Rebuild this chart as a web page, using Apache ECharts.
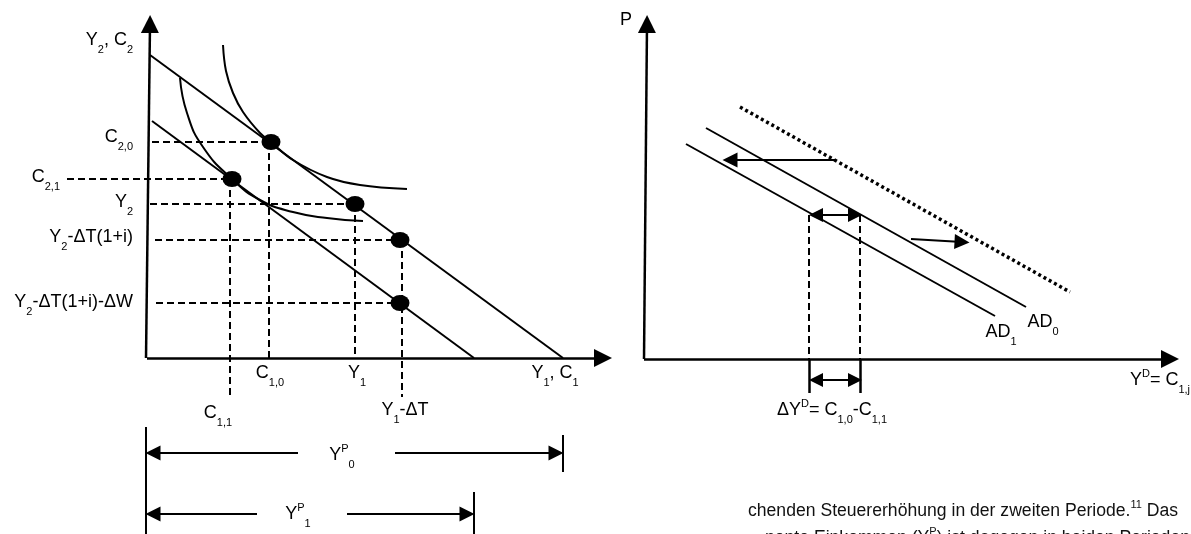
<!DOCTYPE html>
<html><head><meta charset="utf-8">
<script src="https://cdn.jsdelivr.net/npm/echarts@6/dist/echarts.min.js"></script>
<style>html,body{margin:0;padding:0;background:#fff}#c{width:1191px;height:534px}</style>
</head><body><div id="c"></div>
<script>
// ---------- Left diagram (Y1,C1 vs Y2,C2), schematic units from origin ----------
const leftAxisX = [[0,0],[456,0]];
const leftAxisY = [[-1,0],[3,334]];
const budgetOuter = [[3,303],[416,0]];
const budgetInner = [[5,237],[327,0]];
const indiffOuter = [[76,313],[79,287],[86,265],[96,246],[113,225],[124,216],[146,198],[180,181],[213,173],[260,169]];
const indiffInner = [[33,280],[40,245],[56,211],[85,179],[113,158],[146,146],[180,140],[216,137]];
const leftPoints = [[124,216],[85,179],[208,154],[253,118],[253,55]];
const leftGuides = [
  [[5,216],[124,216]], [[122,216],[122,0]],
  [[-80,179],[85,179]], [[83,179],[83,-40]],
  [[3,154],[208,154]], [[208,154],[208,0]],
  [[8,118],[253,118]], [[255,118],[255,-39]],
  [[9,55],[253,55]]
];
const spanBars = [[[-1,-69],[-1,-176]], [[416,-77],[416,-114]], [[327,-134],[327,-176]]];
const spanArrows = [[[151,-95],[6,-95]], [[248,-95],[409,-95]], [[110,-156],[6,-156]], [[200,-156],[320,-156]]];
const leftLabels = [
  ['Y_{2}, C_{2}', -14, 318, 'right'],
  ['C_{2,0}', -14, 221, 'right'],
  ['C_{2,1}', -87, 181, 'right'],
  ['Y_{2}', -14, 156, 'right'],
  ['Y_{2}-ΔT(1+i)', -14, 121, 'right'],
  ['Y_{2}-ΔT(1+i)-ΔW', -14, 56, 'right'],
  ['C_{1,0}', 123, -15, 'center'],
  ['Y_{1}', 210, -15, 'center'],
  ['Y_{1}, C_{1}', 408, -15, 'center'],
  ['C_{1,1}', 71, -55, 'center'],
  ['Y_{1}-ΔT', 258, -52, 'center'],
  ['Y^{P}_{0}', 195, -97, 'center'],
  ['Y^{P}_{1}', 151, -156, 'center']
];

// ---------- Right diagram (P vs Y^D) ----------
const rightAxisX = [[0,0],[526,0]];
const rightAxisY = [[0,0],[3,335]];
const ad1 = [[42,215],[351,43]];
const ad0 = [[62,231],[382,52]];
const adShifted = [[96,252],[426,67]];
const shiftArrows = [[[191,199],[86,199]], [[267,120],[318,117]]];
const deltaArrows = [[[172,144],[211,144]], [[172,-21],[211,-21]]];
const rightGuides = [[[165,144],[165,0]], [[216,144],[216,0]]];
const baseTicks = [[[165,0],[165,-34]], [[216,0],[216,-34]]];
const rightLabels = [
  ['P', -18, 339, 'center'],
  ['AD_{1}', 357, 27, 'center'],
  ['AD_{0}', 399, 37, 'center'],
  ['Y^{D}= C_{1,j}', 516, -21, 'center'],
  ['ΔY^{D}= C_{1,0}-C_{1,1}', 188, -51, 'center']
];

const bodyLines = [
  ['chenden Steuererhöhung in der zweiten Periode.', '11', ' Das'],
  ['nente Einkommen (Y', 'P', ') ist dagegen in beiden Perioden der C']
];

const FONT = '"Liberation Sans", Arial, Helvetica, sans-serif';
const INK = '#000';
const chart = echarts.init(document.getElementById('c'), null, {renderer: 'canvas'});

function segs(arr) { return arr.map(c => ({coords: c})); }
function linesSeries(name, data, grid, opts, ls) {
  return Object.assign({
    type: 'lines', name, coordinateSystem: 'cartesian2d',
    xAxisIndex: grid, yAxisIndex: grid, polyline: false, silent: true,
    data: segs(data), symbol: ['none','none'], symbolSize: 0,
    lineStyle: Object.assign({color: INK, width: 2, opacity: 1, type: 'solid', curveness: 0}, ls || {}),
    itemStyle: {color: INK, opacity: 1}, z: 2, animation: false
  }, opts || {});
}

const option = {
  animation: false,
  backgroundColor: '#fff',
  grid: [
    {left: 0, top: 0, width: 620, height: 534, show: false},
    {left: 620, top: 0, width: 571, height: 534, show: false}
  ],
  xAxis: [
    {type: 'value', gridIndex: 0, min: -147, max: 473, show: false},
    {type: 'value', gridIndex: 1, min: -24, max: 547, show: false}
  ],
  yAxis: [
    {type: 'value', gridIndex: 0, min: -176, max: 358, show: false},
    {type: 'value', gridIndex: 1, min: -175, max: 359, show: false}
  ],
  series: [
    linesSeries('leftAxes', [leftAxisX, leftAxisY], 0, {symbol: ['none','triangle'], symbolSize: 18}, {width: 2.5}),
    linesSeries('budget', [budgetOuter, budgetInner], 0),
    linesSeries('leftGuides', leftGuides, 0, null, {type: [7,4]}),
    linesSeries('spanBars', spanBars, 0),
    linesSeries('spanArrows', spanArrows, 0, {symbol: ['none','triangle'], symbolSize: 15}),
    {type: 'line', name: 'icOuter', xAxisIndex: 0, yAxisIndex: 0, data: indiffOuter, smooth: 0.4,
     showSymbol: false, lineStyle: {color: INK, width: 2, opacity: 1}, silent: true},
    {type: 'line', name: 'icInner', xAxisIndex: 0, yAxisIndex: 0, data: indiffInner, smooth: 0.5,
     showSymbol: false, lineStyle: {color: INK, width: 2, opacity: 1}, silent: true},
    {type: 'scatter', name: 'points', xAxisIndex: 0, yAxisIndex: 0, data: leftPoints,
     symbol: 'circle', symbolSize: [19, 16], itemStyle: {color: '#000', opacity: 1}, z: 5, silent: true},

    linesSeries('rightAxes', [rightAxisX, rightAxisY], 1, {symbol: ['none','triangle'], symbolSize: 18}, {width: 2.5}),
    linesSeries('ad', [ad1, ad0], 1),
    linesSeries('adShifted', [adShifted], 1, null, {width: 3.5, type: [3,3]}),
    linesSeries('shiftArrows', shiftArrows, 1, {symbol: ['none','triangle'], symbolSize: 15}),
    linesSeries('deltaArrows', deltaArrows, 1, {symbol: ['triangle','triangle'], symbolSize: 14}),
    linesSeries('rightGuides', rightGuides, 1, null, {type: [7,4]}),
    linesSeries('baseTicks', baseTicks, 1, null, {width: 2.5})
  ]
};
chart.setOption(option);

// ---------- text labels positioned through the axes ----------
const rich = {
  m: {fontSize: 18, lineHeight: 18, padding: [6,0,0,0], fontFamily: FONT, fill: INK, color: INK, verticalAlign: 'top'},
  s: {fontSize: 11, lineHeight: 11, padding: [19,0,0,0], fontFamily: FONT, fill: INK, color: INK, verticalAlign: 'top'},
  p: {fontSize: 11, lineHeight: 11, padding: [3,0,0,0], fontFamily: FONT, fill: INK, color: INK, verticalAlign: 'top'}
};
function toRich(str) {
  let out = '', i = 0, buf = '';
  const flush = () => { if (buf) { out += '{m|' + buf + '}'; buf = ''; } };
  while (i < str.length) {
    const ch = str[i];
    if ((ch === '_' || ch === '^') && str[i+1] === '{') {
      flush();
      const end = str.indexOf('}', i);
      out += '{' + (ch === '_' ? 's' : 'p') + '|' + str.slice(i+2, end) + '}';
      i = end + 1;
    } else { buf += ch; i++; }
  }
  flush();
  return out;
}
const graphics = [];
function addLabels(list, grid) {
  list.forEach(([t, x, y, align]) => {
    const px = chart.convertToPixel({gridIndex: grid}, [x, y]);
    graphics.push({type: 'text', silent: true, z: 10,
      style: {text: toRich(t), rich, x: px[0], y: px[1] - 15, align, verticalAlign: 'top',
              fontFamily: FONT, fontSize: 18, fill: INK}});
  });
}
addLabels(leftLabels, 0);
addLabels(rightLabels, 1);

const bodyRich = {
  b: {fontSize: 17.6, lineHeight: 19, padding: [5,0,0,0], fontFamily: FONT, fill: '#111', verticalAlign: 'top'},
  u: {fontSize: 11, lineHeight: 11, padding: [2,0,0,0], fontFamily: FONT, fill: '#111', verticalAlign: 'top'}
};
bodyLines.forEach((ln, k) => {
  graphics.push({type: 'text', silent: true, z: 10,
    style: {text: '{b|' + ln[0] + '}{u|' + ln[1] + '}{b|' + ln[2] + '}', rich: bodyRich,
            x: [748, 765][k], y: [497, 524][k], align: 'left', verticalAlign: 'top', fontSize: 17.6, fontFamily: FONT}});
});
chart.setOption({graphic: graphics});
</script>
</body></html>
